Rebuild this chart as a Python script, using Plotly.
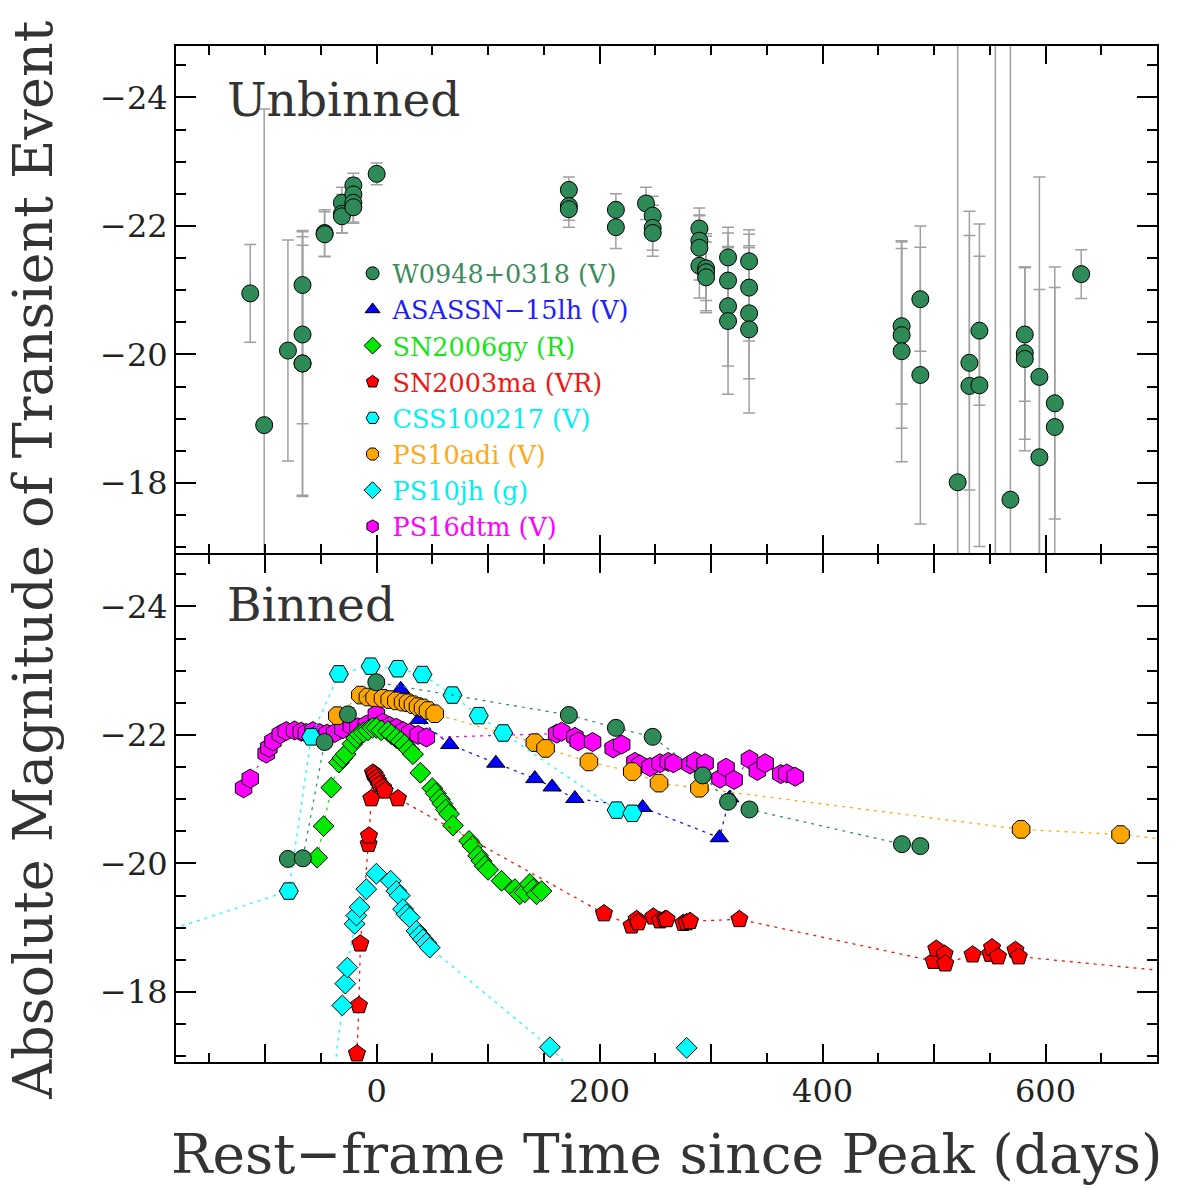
import plotly.graph_objects as go
from plotly.subplots import make_subplots

FONT = "DejaVu Serif"

# ---------------- Unbinned W0948+0318 (V) ----------------
unb_day = [-113.4, -100.9, -79.6, -66.5, -66.5, -66.5, -66.5, -46.7, -46.7,
           -31.2, -31.2, -31.2, -20.9, -20.9, -20.9, -20.9, 0.0,
           172.4, 172.4, 172.4, 214.6, 214.6, 241.6, 247.6, 247.6, 247.6,
           289.5, 289.5, 289.5, 289.5, 295.5, 295.5, 295.5,
           315.2, 315.2, 315.2, 315.2, 334.1, 334.1, 334.1, 334.1,
           470.9, 470.9, 470.9, 487.7, 487.7, 521.2, 531.7, 531.7,
           540.7, 540.7, 555.0, 568.5, 581.4, 581.4, 581.4,
           594.5, 594.5, 608.3, 608.3, 632.0]
unb_mag = [-20.95, -18.90, -20.06, -21.08, -20.31, -19.86, -19.86, -21.89, -21.87,
           -22.36, -22.19, -22.15, -22.63, -22.49, -22.36, -22.29, -22.81,
           -22.56, -22.31, -22.26, -22.25, -21.98, -22.35, -22.16, -21.97, -21.89,
           -21.96, -21.77, -21.66, -21.38, -21.34, -21.28, -21.20,
           -21.51, -21.15, -20.75, -20.52, -21.45, -21.04, -20.64, -20.39,
           -20.44, -20.30, -20.05, -20.86, -19.68, -18.01, -19.87, -19.51,
           -20.37, -19.52, -15.50, -17.74, -20.31, -20.02, -19.93,
           -19.65, -18.40, -19.24, -18.87, -21.25]
unb_err = [0.76, 4.92, 1.72, 0.75, 1.39, 2.07, 2.05, 0.36, 0.35,
           0.24, 0.30, 0.26, 0.19, 0.25, 0.30, 0.25, 0.17,
           0.20, 0.22, 0.28, 0.25, 0.33, 0.25, 0.30, 0.35, 0.36,
           0.32, 0.40, 0.50, 0.50, 0.50, 0.60, 0.55,
           0.47, 0.74, 0.93, 1.14, 0.49, 0.83, 1.02, 1.30,
           1.21, 1.45, 1.72, 0.81, 2.32, 8.00, 1.98, 2.72,
           1.16, 2.51, 10.0, 8.00, 1.04, 1.34, 1.43,
           3.11, 2.61, 1.80, 2.49, 0.38]

# ---------------- Binned light curves ----------------
w_day = [-79.6, -66.2, -46.7, -25.8, -0.3, 172.4, 214.6, 247.6, 292.5, 315.2, 334.4, 471.2, 487.7]
w_mag = [-20.07, -20.08, -21.89, -22.32, -22.82, -22.31, -22.11, -21.97, -21.37, -20.96, -20.84, -20.30, -20.27]

asn_day = [21.6, 38.0, 65.6, 106.9, 141.9, 157.4, 177.8, 238.6, 307.4, 316.8]
asn_mag = [-22.71, -22.24, -21.85, -21.56, -21.32, -21.19, -21.01, -20.87, -20.40, -21.02]

gy_day = [-53.3, -47.6, -40.7, -33.9, -30.8, -27.8, -21.8, -18.2, -15.3, -11.7, -7.8, -3.9, -0.3,
          4.2, 10.1, 13.2, 17.7, 21.6, 25.1, 29.0, 32.6, 39.2, 50.0, 53.0, 56.6, 59.0, 62.0,
          64.9, 68.5, 82.9, 85.9, 91.0, 94.0, 97.0, 100.0, 112.0, 124.0, 128.4, 132.9,
          137.4, 140.4, 143.4, 147.9]
gy_mag = [-20.09, -20.58, -21.18, -21.57, -21.64, -21.70, -21.86, -21.95, -22.01, -22.04, -22.07, -22.11, -22.11,
          -22.07, -22.06, -22.01, -21.95, -21.90, -21.85, -21.77, -21.70, -21.41, -21.17, -21.09, -21.00, -20.93, -20.84,
          -20.77, -20.59, -20.35, -20.27, -20.12, -20.04, -19.96, -19.90, -19.73, -19.60, -19.52, -19.55,
          -19.68, -19.60, -19.52, -19.57]

ma_day = [-17.7, -15.9, -14.6, -7.2, -6.9, -4.8, -3.3, -1.8, -0.3, 1.2, 2.7, 5.7, 7.2, 19.1,
          203.9, 228.7, 233.2, 234.7, 248.2, 254.2, 258.7, 260.2, 275.1, 278.1, 281.1, 325.4,
          499.6, 502.0, 509.5, 510.1, 534.6, 550.5, 552.0, 557.4, 573.0, 576.0, 800.0]
ma_mag = [-17.04, -17.79, -18.75, -20.30, -20.43, -21.01, -21.41, -21.38, -21.33, -21.28, -21.23, -21.18, -21.13, -21.01,
          -19.22, -19.03, -19.13, -19.08, -19.17, -19.11, -19.13, -19.13, -19.07, -19.08, -19.10, -19.13,
          -18.48, -18.67, -18.59, -18.44, -18.58, -18.59, -18.69, -18.55, -18.65, -18.55, -18.17]

css_day = [-250.0, -78.8, -58.7, -33.9, -5.4, 19.1, 41.0, 68.0, 91.6, 113.5, 215.3, 229.3]
css_mag = [-18.60, -19.57, -21.97, -22.95, -23.07, -23.03, -22.94, -22.62, -22.30, -22.03, -20.83, -20.78]

adi_day = [-35.3, -14.6, -7.8, -1.8, 5.7, 11.7, 17.7, 23.7, 28.2, 32.6, 37.1, 41.6, 46.1, 52.1,
           141.9, 151.5, 190.4, 229.3, 253.3, 289.5, 578.1, 667.3, 760.0]
adi_mag = [-22.30, -22.62, -22.59, -22.58, -22.57, -22.55, -22.53, -22.51, -22.50, -22.47, -22.44, -22.42, -22.38, -22.33,
           -21.88, -21.79, -21.58, -21.43, -21.25, -21.17, -20.53, -20.45, -20.28]

jh_day = [-40.0, -30.8, -28.1, -26.3, -19.8, -18.2, -15.3, -9.3, -0.3, 12.6, 17.7, 20.7, 23.7, 26.7, 29.6,
          35.7, 38.6, 41.6, 44.6, 47.6, 155.4, 275.0, 278.1]
jh_mag = [-16.50, -17.79, -18.13, -18.38, -19.06, -19.19, -19.32, -19.60, -19.84, -19.73, -19.57, -19.50, -19.29, -19.21, -19.16,
          -18.95, -18.88, -18.82, -18.76, -18.69, -17.14, -15.00, -17.13]

dtm_day = [-119.4, -113.4, -99.1, -96.7, -93.1, -86.5, -81.1, -73.6, -67.6, -63.1, -57.2, -51.2, -44.6, -37.7,
           -30.3, -22.7, -16.8, -9.3, -0.3, 5.7, 11.7, 17.7, 23.7, 29.6, 37.1, 44.6,
           161.4, 165.9, 177.8, 180.8, 193.7, 212.2, 219.8, 231.7, 236.2, 245.2, 254.2, 261.6,
           266.1, 281.1, 285.6, 294.6, 308.0, 313.4, 320.6, 334.4, 341.5, 348.5, 362.5, 367.9, 375.4]
dtm_mag = [-21.17, -21.32, -21.71, -21.80, -21.90, -22.01, -22.06, -22.07, -22.05, -22.03, -22.06, -22.03, -22.02, -22.03,
           -22.09, -22.14, -22.12, -22.16, -22.32, -22.19, -22.14, -22.11, -22.06, -22.03, -22.00, -21.96,
           -22.02, -22.05, -21.97, -21.90, -21.89, -21.79, -21.85, -21.58, -21.54, -21.50, -21.56, -21.58,
           -21.56, -21.54, -21.59, -21.56, -21.32, -21.49, -21.30, -21.62, -21.44, -21.56, -21.39, -21.40, -21.35]

# legend labels
names = ["W0948+0318 (V)", "ASASSN\u221215lh (V)", "SN2006gy (R)", "SN2003ma (VR)",
         "CSS100217 (V)", "PS10adi (V)", "PS10jh (g)", "PS16dtm (V)"]
colors = ["rgb(46,139,87)", "rgb(0,0,255)", "rgb(0,235,0)", "rgb(255,0,0)",
          "rgb(0,255,255)", "rgb(255,165,0)", "rgb(0,255,255)", "rgb(255,0,255)"]
text_colors = ["rgb(60,140,95)", "rgb(30,30,255)", "rgb(20,230,20)", "rgb(245,20,20)",
               "rgb(0,240,240)", "rgb(255,170,20)", "rgb(0,240,240)", "rgb(255,0,255)"]
symbols = ["circle", "triangle-up", "diamond", "pentagon", "hexagon2", "octagon", "diamond", "hexagon"]
sizes = [17, 16, 16, 18, 19, 19, 16, 19]

gap = 2.0 / 1016
fig = make_subplots(rows=2, cols=1, shared_xaxes=True, vertical_spacing=gap)

# unbinned panel
fig.add_trace(go.Scatter(
    x=unb_day, y=unb_mag, mode="markers", showlegend=False,
    marker=dict(symbol="circle", size=17, color=colors[0], line=dict(color="black", width=1)),
    error_y=dict(type="data", array=unb_err, color="rgb(160,160,160)", thickness=1.5, width=6),
), row=1, col=1)

# binned panel (draw order bottom -> top)
series = {
    7: (dtm_day, dtm_mag),
    1: (asn_day, asn_mag),
    5: (adi_day, adi_mag),
    4: (css_day, css_mag),
    2: (gy_day, gy_mag),
    3: (ma_day, ma_mag),
    6: (jh_day, jh_mag),
    0: (w_day, w_mag),
}
for i, (xd, yd) in series.items():
    fig.add_trace(go.Scatter(
        x=xd, y=yd, mode="lines+markers", showlegend=False,
        line=dict(color=colors[i], width=1.2, dash="3px,5px"),
        marker=dict(symbol=symbols[i], size=sizes[i], color=colors[i], line=dict(color="black", width=1)),
    ), row=2, col=1)

# legend entries
for i in range(8):
    fig.add_trace(go.Scatter(
        x=[None], y=[None], mode="markers", showlegend=True,
        name=f"<span style='color:{text_colors[i]}'>{names[i]}</span>",
        marker=dict(symbol=symbols[i], size=13, color=colors[i], line=dict(color="black", width=1)),
    ), row=1, col=1)

xt_vals = [-100, 0, 100, 200, 300, 400, 500, 600, 700]
xt_text = ["", "0", "", "200", "", "400", "", "600", ""]
xcommon = dict(range=[-180, 700], showline=True, linecolor="black", linewidth=2, mirror="allticks",
               ticks="inside", ticklen=18, tickwidth=1.5, tickcolor="black",
               tickvals=xt_vals, ticktext=xt_text, showgrid=False, zeroline=False,
               minor=dict(tickmode="linear", tick0=0, dtick=50, ticks="inside", ticklen=9,
                          tickwidth=1.5, tickcolor="black", showgrid=False),
               tickfont=dict(family=FONT, size=32, color="#222"))
fig.update_xaxes(**xcommon)
fig.update_xaxes(showticklabels=False, row=1, col=1)
fig.update_xaxes(showticklabels=True, row=2, col=1)

yt_vals = [-24, -22, -20, -18]
yt_text = ["\u221224", "\u221222", "\u221220", "\u221218"]
fig.update_yaxes(range=[-16.91, -24.8], showline=True, linecolor="black", linewidth=2, mirror="allticks",
                 ticks="inside", ticklen=20, tickwidth=1.5, tickcolor="black",
                 tickvals=yt_vals, ticktext=yt_text, showgrid=False, zeroline=False,
                 minor=dict(tickmode="linear", tick0=0, dtick=0.5, ticks="inside", ticklen=10,
                            tickwidth=1.5, tickcolor="black", showgrid=False),
                 tickfont=dict(family=FONT, size=32, color="#222"))

fig.update_layout(
    width=1177, height=1188,
    margin=dict(l=176, r=20, t=46, b=126),
    paper_bgcolor="white", plot_bgcolor="white",
    font=dict(family=FONT, color="#222"),
    legend=dict(x=0.18, y=0.799, xanchor="left", yanchor="top",
                bgcolor="rgba(0,0,0,0)", borderwidth=0,
                font=dict(family=FONT, size=25.5), tracegroupgap=0, itemwidth=30),
    annotations=[
        dict(text="Unbinned", x=0.050, y=0.947, xref="paper", yref="paper", xanchor="left", yanchor="middle",
             showarrow=False, font=dict(family=FONT, size=47, color="#333")),
        dict(text="Binned", x=0.050, y=0.450, xref="paper", yref="paper", xanchor="left", yanchor="middle",
             showarrow=False, font=dict(family=FONT, size=47, color="#333")),
        dict(text="Rest\u2212frame Time since Peak (days)", x=0.5, y=-0.0905, xref="paper", yref="paper",
             xanchor="center", yanchor="middle", showarrow=False,
             font=dict(family=FONT, size=55, color="#333")),
        dict(text="Absolute Magnitude of Transient Event", x=-0.146, y=0.494, xref="paper", yref="paper",
             xanchor="center", yanchor="middle", textangle=-90, showarrow=False,
             font=dict(family=FONT, size=54, color="#333")),
    ],
)

fig.write_html("out.html")
